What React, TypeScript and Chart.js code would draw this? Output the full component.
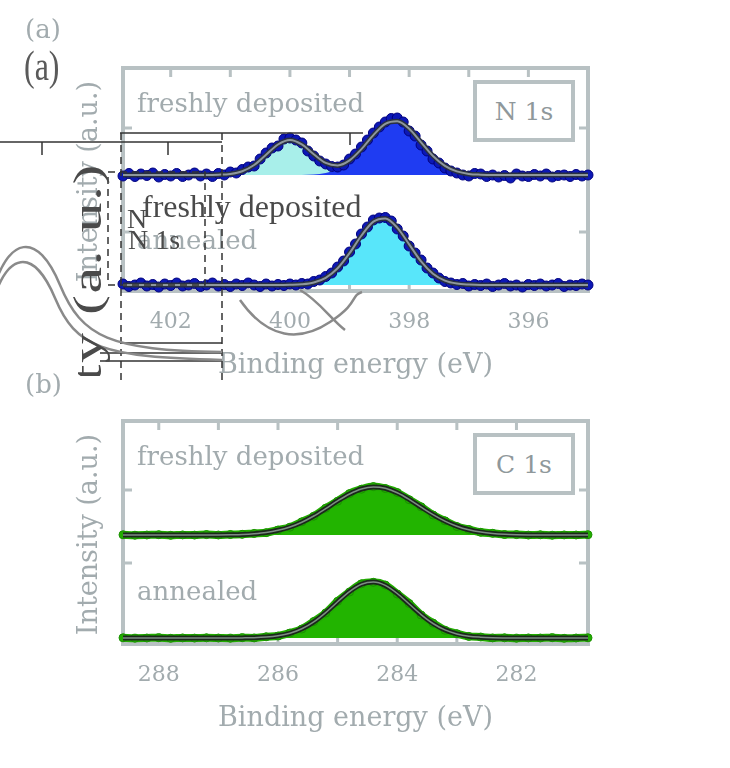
import React, { useEffect, useRef } from "react";
import { Chart, registerables } from "chart.js";
Chart.register(...registerables);

// ---------- data ----------
// N 1s fit curves (0.2 eV grid)
const N_ENERGY = [402.8, 402.6, 402.4, 402.2, 402.0, 401.8, 401.6, 401.4, 401.2, 401.0, 400.8, 400.6, 400.4, 400.2, 400.0, 399.8, 399.6, 399.4, 399.2, 399.0, 398.8, 398.6, 398.4, 398.2, 398.0, 397.8, 397.6, 397.4, 397.2, 397.0, 396.8, 396.6, 396.4, 396.2, 396.0, 395.8, 395.6, 395.4, 395.2, 395.0];
const N_FRESH_FIT = [11.6, 11.6, 11.6, 11.6, 11.6, 11.6, 11.6, 11.6, 11.63, 11.71, 11.98, 12.6, 13.62, 14.65, 15.1, 14.66, 13.68, 12.81, 12.56, 13.06, 14.19, 15.59, 16.71, 16.97, 16.23, 14.87, 13.5, 12.51, 11.96, 11.71, 11.63, 11.6, 11.6, 11.6, 11.6, 11.6, 11.6, 11.6, 11.6, 11.6];
const N_FRESH_C1 = [11.6, 11.6, 11.6, 11.6, 11.6, 11.6, 11.6, 11.6, 11.63, 11.71, 11.98, 12.6, 13.62, 14.65, 15.1, 14.65, 13.62, 12.6, 11.98, 11.71, 11.63, 11.6, 11.6, 11.6, 11.6, 11.6, 11.6, 11.6, 11.6, 11.6, 11.6, 11.6, 11.6, 11.6, 11.6, 11.6, 11.6, 11.6, 11.6, 11.6];
const N_FRESH_C2 = [11.6, 11.6, 11.6, 11.6, 11.6, 11.6, 11.6, 11.6, 11.6, 11.6, 11.6, 11.6, 11.6, 11.6, 11.6, 11.61, 11.66, 11.81, 12.18, 12.95, 14.16, 15.59, 16.71, 16.97, 16.23, 14.87, 13.5, 12.51, 11.96, 11.71, 11.63, 11.6, 11.6, 11.6, 11.6, 11.6, 11.6, 11.6, 11.6, 11.6];
const N_FRESH_BASE = 11.6;
const N_ANN_FIT = [0.6, 0.6, 0.6, 0.6, 0.6, 0.6, 0.6, 0.6, 0.6, 0.6, 0.6, 0.6, 0.6, 0.6, 0.62, 0.67, 0.85, 1.32, 2.27, 3.78, 5.55, 6.94, 7.26, 6.34, 4.67, 2.96, 1.73, 1.04, 0.74, 0.64, 0.6, 0.6, 0.6, 0.6, 0.6, 0.6, 0.6, 0.6, 0.6, 0.6];
const N_ANN_BASE = 0.6;
// N 1s measured points (0.1 eV grid)
const N_DATA_ENERGY = [402.8, 402.7, 402.6, 402.5, 402.4, 402.3, 402.2, 402.1, 402.0, 401.9, 401.8, 401.7, 401.6, 401.5, 401.4, 401.3, 401.2, 401.1, 401.0, 400.9, 400.8, 400.7, 400.6, 400.5, 400.4, 400.3, 400.2, 400.1, 400.0, 399.9, 399.8, 399.7, 399.6, 399.5, 399.4, 399.3, 399.2, 399.1, 399.0, 398.9, 398.8, 398.7, 398.6, 398.5, 398.4, 398.3, 398.2, 398.1, 398.0, 397.9, 397.8, 397.7, 397.6, 397.5, 397.4, 397.3, 397.2, 397.1, 397.0, 396.9, 396.8, 396.7, 396.6, 396.5, 396.4, 396.3, 396.2, 396.1, 396.0, 395.9, 395.8, 395.7, 395.6, 395.5, 395.4, 395.3, 395.2, 395.1, 395.0];
const N_FRESH_DATA = [11.5, 11.75, 11.45, 11.7, 11.55, 11.8, 11.4, 11.65, 11.5, 11.75, 11.45, 11.6, 11.8, 11.5, 11.7, 11.45, 11.75, 11.6, 11.9, 11.8, 12.15, 12.4, 12.5, 13.2, 13.8, 14.3, 14.5, 15.2, 15.3, 15.1, 14.8, 14.0, 13.5, 13.0, 12.7, 12.45, 12.4, 12.6, 13.2, 13.7, 14.4, 15.1, 15.8, 16.4, 16.9, 17.25, 17.3, 16.9, 16.0, 15.5, 14.6, 14.0, 13.2, 12.8, 12.3, 12.0, 11.8, 11.6, 11.5, 11.75, 11.7, 11.45, 11.6, 11.4, 11.55, 11.3, 11.7, 11.5, 11.45, 11.65, 11.5, 11.7, 11.4, 11.55, 11.6, 11.45, 11.65, 11.5, 11.6];
const N_ANN_DATA = [0.7, 0.45, 0.6, 0.8, 0.5, 0.65, 0.4, 0.7, 0.55, 0.8, 0.5, 0.6, 0.75, 0.45, 0.6, 0.8, 0.5, 0.65, 0.45, 0.7, 0.55, 0.8, 0.6, 0.45, 0.7, 0.5, 0.65, 0.55, 0.7, 0.6, 0.75, 0.7, 0.95, 1.1, 1.45, 1.8, 2.4, 3.0, 3.9, 4.7, 5.7, 6.4, 7.1, 7.3, 7.35, 7.0, 6.2, 5.5, 4.5, 3.8, 3.1, 2.3, 1.8, 1.3, 0.95, 0.8, 0.65, 0.75, 0.5, 0.65, 0.55, 0.7, 0.45, 0.6, 0.75, 0.5, 0.6, 0.4, 0.65, 0.55, 0.7, 0.5, 0.6, 0.75, 0.45, 0.6, 0.55, 0.7, 0.6];
const N_TICKS = [402, 400, 398, 396];
const N_MINOR = [402, 401, 400, 399, 398, 397, 396];
const N_Y_TICKS = [5.9, 16.3];

const C_ENERGY = [288.6, 288.4, 288.2, 288.0, 287.8, 287.6, 287.4, 287.2, 287.0, 286.8, 286.6, 286.4, 286.2, 286.0, 285.8, 285.6, 285.4, 285.2, 285.0, 284.8, 284.6, 284.4, 284.2, 284.0, 283.8, 283.6, 283.4, 283.2, 283.0, 282.8, 282.6, 282.4, 282.2, 282.0, 281.8, 281.6, 281.4, 281.2, 281.0, 280.8];
const C_FRESH_DATA = [10.92, 10.88, 10.9, 10.93, 10.87, 10.91, 10.89, 10.94, 10.9, 10.95, 10.97, 11.06, 11.13, 11.4, 11.68, 12.22, 12.78, 13.58, 14.28, 15.04, 15.48, 15.74, 15.55, 15.15, 14.43, 13.72, 12.9, 12.32, 11.75, 11.45, 11.17, 11.07, 10.95, 10.94, 10.89, 10.92, 10.88, 10.91, 10.9, 10.93];
const C_FRESH_FIT = [10.9, 10.9, 10.9, 10.9, 10.9, 10.9, 10.9, 10.9, 10.91, 10.93, 10.96, 11.03, 11.15, 11.37, 11.7, 12.18, 12.8, 13.54, 14.31, 15.0, 15.5, 15.7, 15.57, 15.12, 14.46, 13.69, 12.94, 12.29, 11.78, 11.42, 11.19, 11.05, 10.97, 10.93, 10.91, 10.9, 10.9, 10.9, 10.9, 10.9];
const C_FRESH_BASE = 10.9;
const C_ANN_DATA = [0.62, 0.58, 0.6, 0.63, 0.57, 0.61, 0.59, 0.62, 0.6, 0.58, 0.63, 0.61, 0.72, 0.8, 1.1, 1.5, 2.25, 3.1, 4.27, 5.2, 6.02, 6.17, 5.9, 5.0, 4.05, 2.9, 2.09, 1.38, 1.03, 0.76, 0.7, 0.61, 0.62, 0.58, 0.61, 0.6, 0.63, 0.57, 0.6, 0.62];
const C_ANN_FIT = [0.6, 0.6, 0.6, 0.6, 0.6, 0.6, 0.6, 0.6, 0.6, 0.6, 0.61, 0.63, 0.69, 0.82, 1.07, 1.52, 2.21, 3.14, 4.22, 5.24, 5.97, 6.2, 5.86, 5.05, 4.0, 2.94, 2.05, 1.41, 1.01, 0.78, 0.68, 0.63, 0.61, 0.6, 0.6, 0.6, 0.6, 0.6, 0.6, 0.6];
const C_ANN_BASE = 0.6;
const C_TICKS = [288, 286, 284, 282];
const C_MINOR = [288, 287, 286, 285, 284, 283, 282];
const C_Y_TICKS = [8.1, 15.4];

// ---------- styles ----------
const FRAME = "#b8c1c3";
const TXT = "#a2abae";
const DARKTXT = "#4a4a4a";
const SERIF = "'DejaVu Serif', serif";
const CRISP = "'Liberation Serif', serif";

const pts = (xs: number[], ys: number[]) => xs.map((x, i) => ({ x, y: ys[i] }));

function framePlugin(minor: number[], yTicks: number[]) {
  return {
    id: "frame",
    beforeDatasetsDraw(chart: any) {
      const { ctx, chartArea: a, scales } = chart;
      ctx.save();
      ctx.strokeStyle = FRAME;
      ctx.lineWidth = 4;
      ctx.strokeRect(a.left, a.top, a.right - a.left, a.bottom - a.top);
      ctx.lineWidth = 3;
      ctx.beginPath();
      minor.forEach((v) => {
        const x = scales.x.getPixelForValue(v);
        ctx.moveTo(x, a.top);
        ctx.lineTo(x, a.top + 9);
        ctx.moveTo(x, a.bottom);
        ctx.lineTo(x, a.bottom - 9);
      });
      yTicks.forEach((v) => {
        const y = scales.y.getPixelForValue(v);
        ctx.moveTo(a.left, y);
        ctx.lineTo(a.left + 9, y);
        ctx.moveTo(a.right, y);
        ctx.lineTo(a.right - 9, y);
      });
      ctx.stroke();
      ctx.restore();
    },
  };
}

function fillSet(xs: number[], ys: number[], base: number, color: string, order: number) {
  return {
    data: pts(xs, ys),
    borderWidth: 0,
    pointRadius: 0,
    backgroundColor: color,
    fill: { value: base },
    cubicInterpolationMode: "monotone",
    order,
  };
}
function lineSet(xs: number[], ys: number[], color: string, width: number, order: number) {
  return {
    data: pts(xs, ys),
    borderColor: color,
    borderWidth: width,
    pointRadius: 0,
    fill: false,
    cubicInterpolationMode: "monotone",
    clip: false,
    order,
  };
}
function markerSet(xs: number[], ys: number[], fill: string, border: string, r: number, band = 0) {
  return {
    data: pts(xs, ys),
    showLine: band > 0,
    borderColor: fill,
    borderWidth: band,
    cubicInterpolationMode: "monotone",
    pointRadius: r,
    pointBackgroundColor: fill,
    pointBorderColor: border,
    pointBorderWidth: 1,
    fill: false,
    clip: false,
    order: 2,
  };
}

function makeOptions(min: number, max: number, ticks: number[], topPad: number, bottomPad: number) {
  return {
    responsive: false,
    animation: false,
    events: [],
    layout: { padding: { left: 123, right: 142, top: topPad, bottom: bottomPad } },
    plugins: { legend: { display: false }, tooltip: { enabled: false } },
    scales: {
      x: {
        type: "linear",
        reverse: true,
        min,
        max,
        grid: { display: false, drawTicks: false },
        border: { display: false },
        afterBuildTicks: (s: any) => {
          s.ticks = ticks.map((v) => ({ value: v }));
        },
        afterFit: (s: any) => {
          s.height = 93;
        },
        ticks: {
          font: { family: SERIF, size: 22 },
          color: TXT,
          padding: 18,
          maxRotation: 0,
          callback: (v: any) => String(v),
        },
        title: {
          display: true,
          text: "Binding energy (eV)",
          font: { family: SERIF, size: 27 },
          color: TXT,
          padding: { top: 0, bottom: 2 },
        },
      },
      y: { display: false, min: 0, max: 22.3 },
    },
  };
}

function NChart() {
  const ref = useRef<HTMLCanvasElement>(null);
  useEffect(() => {
    const chart = new Chart(ref.current as HTMLCanvasElement, {
      type: "line",
      data: {
        datasets: [
          lineSet(N_ENERGY, N_FRESH_FIT, "#8e979c", 2, 0),
          lineSet(N_ENERGY, N_FRESH_FIT, "#2a3142", 5, 1),
          lineSet(N_ENERGY, N_ANN_FIT, "#8e979c", 2, 0),
          lineSet(N_ENERGY, N_ANN_FIT, "#2a3142", 5, 1),
          markerSet(N_DATA_ENERGY, N_FRESH_DATA, "#0c18b6", "#00007e", 5),
          markerSet(N_DATA_ENERGY, N_ANN_DATA, "#0c18b6", "#00007e", 5),
          fillSet(N_ENERGY, N_FRESH_C2, N_FRESH_BASE, "#1f3cf2", 3),
          fillSet(N_ENERGY, N_FRESH_C1, N_FRESH_BASE, "#a8efea", 4),
          fillSet(N_ENERGY, N_ANN_FIT, N_ANN_BASE, "#58e6fa", 3),
        ] as any,
      },
      options: makeOptions(395.0, 402.8, N_TICKS, 68, 0) as any,
      plugins: [framePlugin(N_MINOR, N_Y_TICKS)],
    });
    return () => chart.destroy();
  }, []);
  return <canvas ref={ref} width={730} height={384} style={{ position: "absolute", left: 0, top: 0, width: 730, height: 384 }} />;
}

function CChart() {
  const ref = useRef<HTMLCanvasElement>(null);
  useEffect(() => {
    const chart = new Chart(ref.current as HTMLCanvasElement, {
      type: "line",
      data: {
        datasets: [
          lineSet(C_ENERGY, C_FRESH_FIT, "#7d8b84", 1.5, 0),
          lineSet(C_ENERGY, C_FRESH_FIT, "#1b281b", 5, 1),
          lineSet(C_ENERGY, C_ANN_FIT, "#7d8b84", 1.5, 0),
          lineSet(C_ENERGY, C_ANN_FIT, "#1b281b", 5, 1),
          markerSet(C_ENERGY, C_FRESH_DATA, "#22ad00", "#1a9000", 4, 8),
          markerSet(C_ENERGY, C_ANN_DATA, "#22ad00", "#1a9000", 4, 8),
          fillSet(C_ENERGY, C_FRESH_FIT, C_FRESH_BASE, "#22b400", 3),
          fillSet(C_ENERGY, C_ANN_FIT, C_ANN_BASE, "#22b400", 3),
        ] as any,
      },
      options: makeOptions(280.8, 288.6, C_TICKS, 37, 31) as any,
      plugins: [framePlugin(C_MINOR, C_Y_TICKS)],
    });
    return () => chart.destroy();
  }, []);
  return <canvas ref={ref} width={730} height={384} style={{ position: "absolute", left: 0, top: 384, width: 730, height: 384 }} />;
}

const abs = (s: any) => ({ position: "absolute", whiteSpace: "nowrap", ...s });

function Label({ x, cy, text, size = 26 }: { x: number; cy: number; text: string; size?: number }) {
  return (
    <div style={abs({ left: x, top: cy - size * 0.6, height: size * 1.2, lineHeight: `${size * 1.2}px`, fontFamily: SERIF, fontSize: size, color: TXT })}>
      {text}
    </div>
  );
}

function YTitle({ cx, cy, text }: { cx: number; cy: number; text: string }) {
  return (
    <div
      style={abs({
        left: cx - 16,
        top: cy - 150,
        width: 32,
        height: 300,
        display: "flex",
        alignItems: "center",
        justifyContent: "center",
      })}
    >
      <div style={{ writingMode: "vertical-rl", transform: "rotate(180deg)", fontFamily: SERIF, fontSize: 27, color: TXT, lineHeight: "32px", whiteSpace: "nowrap" }}>{text}</div>
    </div>
  );
}

function Box({ top, text }: { top: number; text: string }) {
  return (
    <div
      style={abs({
        left: 473,
        top,
        width: 102,
        height: 62,
        boxSizing: "border-box",
        border: `4px solid ${FRAME}`,
        background: "#fff",
        display: "flex",
        alignItems: "center",
        justifyContent: "center",
        fontFamily: SERIF,
        fontSize: 25,
        color: "#8f989b",
      })}
    >
      {text}
    </div>
  );
}

function Overlay() {
  return (
    <svg width={730} height={768} style={{ position: "absolute", left: 0, top: 0, pointerEvents: "none" }}>
      <g stroke="#333" strokeWidth={1.5} fill="none">
        <line x1={120} y1={133} x2={363} y2={133} />
        <line x1={0} y1={142} x2={222} y2={142} />
        <line x1={42} y1={142} x2={42} y2={155} />
        <line x1={168} y1={142} x2={168} y2={155} />
        <line x1={350} y1={133} x2={350} y2={145} />
        <line x1={121} y1={133} x2={121} y2={385} strokeDasharray="7 5" />
        <line x1={222} y1={133} x2={222} y2={385} strokeDasharray="7 5" />
        <rect x={108} y={172} width={97} height={113} strokeDasharray="7 5" />
        <line x1={120} y1={343} x2={222} y2={343} />
        <line x1={100} y1={353} x2={222} y2={353} />
        <line x1={100} y1={361} x2={222} y2={361} />
      </g>
      <g stroke="#8a8a8a" strokeWidth={2.5} fill="none">
        <path d="M -10 300 C 8 232, 38 232, 60 285 S 110 350, 222 352" />
        <path d="M -10 312 C 6 248, 34 248, 55 298 S 102 357, 222 360" />
        <path d="M 240 300 C 268 340, 300 342, 330 322 S 350 296, 362 292" />
        <path d="M 300 290 C 318 300, 330 318, 345 330" />
      </g>
    </svg>
  );
}

export default function App() {
  return (
    <div style={{ position: "absolute", left: 0, top: 0, width: 730, height: 768, background: "#fff", overflow: "hidden" }}>
      <NChart />
      <CChart />
      {/* panel labels */}
      <Label x={25} cy={30} text="(a)" />
      <div style={abs({ left: 24, top: 44, fontFamily: CRISP, fontSize: 32, lineHeight: "32px", color: "#5a5a5a", transform: "scaleY(1.35)", transformOrigin: "top left" })}>(a)</div>
      <Label x={25} cy={385} text="(b)" />
      {/* y titles */}
      <YTitle cx={88} cy={182} text="Intensity (a.u.)" />
      <YTitle cx={88} cy={535} text="Intensity (a.u.)" />
      {/* sample labels */}
      <Label x={137} cy={104} text="freshly deposited" />
      <Label x={137} cy={241} text="annealed" />
      <Label x={137} cy={457} text="freshly deposited" />
      <Label x={137} cy={592} text="annealed" />
      <Box top={80} text="N 1s" />
      <Box top={433} text="C 1s" />
      <Overlay />
      {/* crisp overlay texts */}
      <div style={abs({ left: 142, top: 190, fontFamily: CRISP, fontSize: 32, lineHeight: "32px", color: DARKTXT })}>freshly deposited</div>
      <div style={abs({ left: 127, top: 205, fontFamily: CRISP, fontSize: 28, lineHeight: "28px", color: DARKTXT })}>N</div>
      <div style={abs({ left: 128, top: 226, fontFamily: CRISP, fontSize: 28, lineHeight: "28px", color: DARKTXT })}>N 1s</div>
      <div style={abs({ left: 60, top: 150, width: 56, height: 226, overflow: "hidden" })}>
        <div style={abs({ left: 8, top: 13, width: 40, transform: "scaleY(1.5)", transformOrigin: "50% 0%" })}>
          <div style={{ writingMode: "vertical-rl", transform: "rotate(180deg)", fontFamily: CRISP, fontSize: 40, lineHeight: "40px", color: DARKTXT, whiteSpace: "nowrap", letterSpacing: "1px" }}>
            Intensity (a. u.)
          </div>
        </div>
      </div>
    </div>
  );
}
